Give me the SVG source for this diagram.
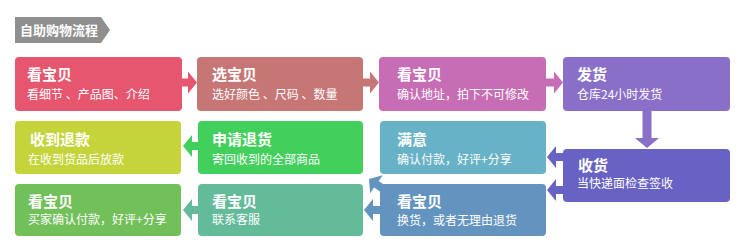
<svg xmlns="http://www.w3.org/2000/svg" width="750" height="247" viewBox="0 0 750 247">
<style>
text{font-family:"Noto Sans CJK SC","Liberation Sans",sans-serif;fill:#fff}
.t{font-size:15px;font-weight:bold}
.s{font-size:12px}
.h{font-size:13px;font-weight:bold}
</style>
<defs>
<path id="ar" d="M0,0 L9,-11 L9,-4 L17,-4 L17,4 L9,4 L9,11 Z"/>
</defs>
<rect width="750" height="247" fill="#fff"/>
<g id="header">
<polygon points="15,17 101,17 110,30 101,43 15,43" fill="#8f8f8f"/>
<text class="h" x="20" y="35">自助购物流程</text>
</g>
<g id="connectors">
<use href="#ar" transform="translate(197,82.5) rotate(180)" fill="#e6566f"/>
<use href="#ar" transform="translate(379,82.5) rotate(180)" fill="#c77676"/>
<use href="#ar" transform="translate(563,82.5) rotate(180)" fill="#c76db5"/>
<polygon points="642.5,110 651.5,110 651.5,138 659,138 647,148 635,138 642.5,138" fill="#8a6fc8"/>
<use href="#ar" transform="translate(547,157)" fill="#6762c4"/>
<use href="#ar" transform="translate(547,190)" fill="#6762c4"/>
<use href="#ar" transform="translate(183,146)" fill="#43cf5b"/>
<use href="#ar" transform="translate(183,210)" fill="#64bb9a"/>
<use href="#ar" transform="translate(364,210)" fill="#6393bf"/>
<use href="#ar" transform="translate(369,179) rotate(35)" fill="#6393bf"/>
</g>
<g id="n1"><rect x="15" y="57" width="167" height="54" rx="4" fill="#e6566f"/><text class="t" x="27" y="80">看宝贝</text><text class="s" x="27" y="98.5">看细节 、产品图、介绍</text></g>
<g id="n2"><rect x="197" y="57" width="166" height="54" rx="4" fill="#c77676"/><text class="t" x="212" y="80">选宝贝</text><text class="s" x="212" y="98.5">选好颜色 、尺码 、数量</text></g>
<g id="n3"><rect x="379" y="57" width="167" height="54" rx="4" fill="#c76db5"/><text class="t" x="397" y="80">看宝贝</text><text class="s" x="397" y="98.5">确认地址，拍下不可修改</text></g>
<g id="n4"><rect x="563" y="57" width="167" height="54" rx="4" fill="#8a6fc8"/><text class="t" x="577" y="80">发货</text><text class="s" x="577" y="98.5">仓库24小时发货</text></g>
<g id="n5"><rect x="563" y="149" width="167" height="53" rx="4" fill="#6762c4"/><text class="t" x="578" y="171">收货</text><text class="s" x="577" y="188">当快递面检查签收</text></g>
<g id="n6"><rect x="380" y="121" width="166" height="53" rx="4" fill="#67b2c6"/><text class="t" x="397" y="145">满意</text><text class="s" x="397" y="164">确认付款，好评+分享</text></g>
<g id="n7"><rect x="380" y="184" width="166" height="52" rx="4" fill="#6393bf"/><text class="t" x="397" y="207">看宝贝</text><text class="s" x="397" y="225">换货，或者无理由退货</text></g>
<g id="n8"><rect x="198" y="121" width="165" height="53" rx="4" fill="#43cf5b"/><text class="t" x="212" y="145">申请退货</text><text class="s" x="212" y="164">寄回收到的全部商品</text></g>
<g id="n9"><rect x="15" y="121" width="166" height="53" rx="4" fill="#c5d43a"/><text class="t" x="30" y="145">收到退款</text><text class="s" x="28" y="164">在收到货品后放款</text></g>
<g id="n10"><rect x="198" y="184" width="165" height="52" rx="4" fill="#64bb9a"/><text class="t" x="212" y="207">看宝贝</text><text class="s" x="212" y="224">联系客服</text></g>
<g id="n11"><rect x="15" y="184" width="166" height="52" rx="4" fill="#72c05a"/><text class="t" x="28" y="207">看宝贝</text><text class="s" x="28" y="224">买家确认付款，好评+分享</text></g>
</svg>
